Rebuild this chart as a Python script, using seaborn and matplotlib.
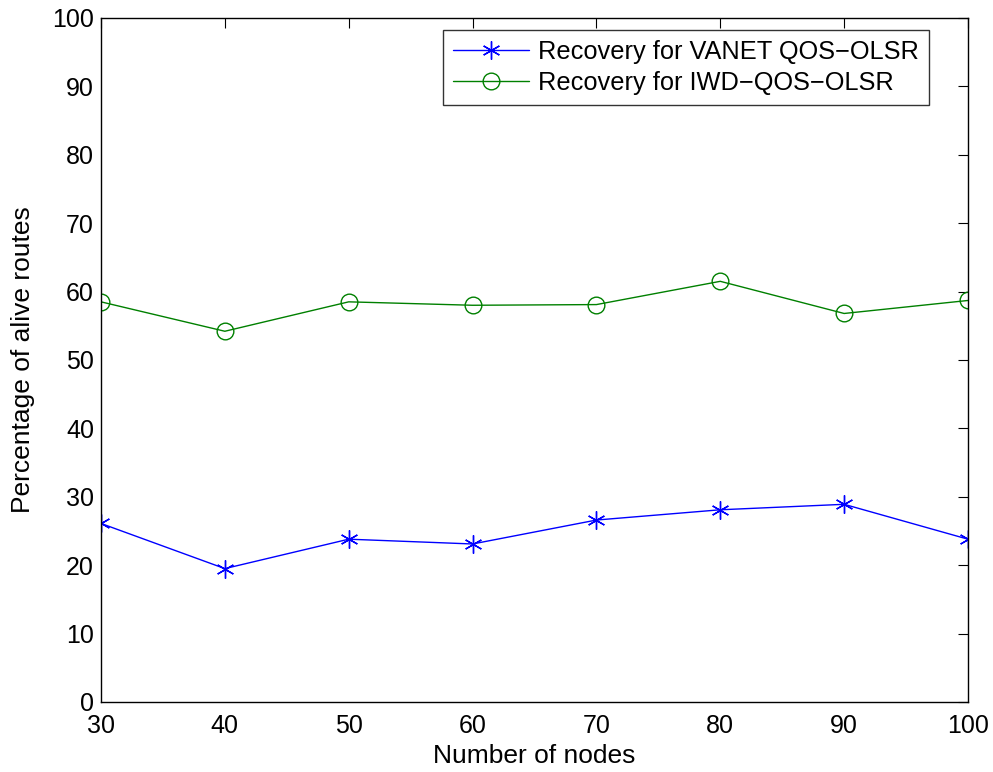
import matplotlib
matplotlib.use("Agg")
import matplotlib.pyplot as plt
import seaborn as sns
import pandas as pd

nodes = [30, 40, 50, 60, 70, 80, 90, 100]
vanet_qos_olsr = [26.1, 19.5, 23.8, 23.1, 26.6, 28.1, 28.9, 23.8]
iwd_qos_olsr = [58.5, 54.2, 58.5, 58.0, 58.1, 61.5, 56.8, 58.7]
series_names = ["Recovery for VANET QOS\u2212OLSR", "Recovery for IWD\u2212QOS\u2212OLSR"]
x_ticks = [30, 40, 50, 60, 70, 80, 90, 100]
y_ticks = list(range(0, 101, 10))

BLUE = (0, 0, 1)
GREEN = (0, 0.5, 0)

sns.set_theme(style="white")
plt.rcParams["font.family"] = ["Liberation Sans", "DejaVu Sans"]
plt.rcParams["axes.unicode_minus"] = True
plt.rcParams["text.color"] = "black"
plt.rcParams["axes.labelcolor"] = "black"

df = pd.DataFrame({
    "nodes": nodes * 2,
    "value": vanet_qos_olsr + iwd_qos_olsr,
    "series": [series_names[0]] * len(nodes) + [series_names[1]] * len(nodes),
})

fig = plt.figure(figsize=(9.93, 7.72), dpi=100)
ax = fig.add_axes([0.1017, 0.0907, 0.8731, 0.886])

sns.lineplot(
    data=df, x="nodes", y="value", hue="series", style="series",
    markers={series_names[0]: "*", series_names[1]: "o"},
    dashes=False,
    palette={series_names[0]: BLUE, series_names[1]: GREEN},
    ax=ax, linewidth=1.0, legend=False,
)


def style_marker(line):
    col = line.get_color()
    if line.get_marker() == "*":
        line.set_marker((6, 2, 0))
        line.set_markersize(13)
    elif line.get_marker() == "o":
        line.set_markersize(12)
    line.set_markerfacecolor("none")
    line.set_markeredgecolor(col)
    line.set_markeredgewidth(1.0)


for line in ax.lines:
    style_marker(line)

ax.set_xlim(30, 100)
ax.set_ylim(0, 100)
ax.set_xticks(x_ticks)
ax.set_yticks(y_ticks)
ax.set_xlabel("Number of nodes", fontsize=19, labelpad=4)
ax.set_ylabel("Percentage of alive routes", fontsize=19)
ax.yaxis.set_label_coords(-0.076, 0.5)
ax.tick_params(axis="both", which="both", direction="in", length=7, width=0.8,
               top=True, right=True, labelsize=18, colors="black")
ax.tick_params(axis="x", pad=9)
ax.tick_params(axis="y", pad=5)
for s in ax.spines.values():
    s.set_color("black")
    s.set_linewidth(1.0)

leg = ax.legend(handles=list(ax.lines), labels=series_names, loc="upper right",
                bbox_to_anchor=(0.955, 0.9825), borderaxespad=0.0,
                fontsize=18.3, frameon=True, fancybox=False,
                edgecolor="black", borderpad=0.38, labelspacing=0.3,
                handlelength=3.0, handletextpad=0.38)
leg.get_frame().set_linewidth(1.0)
for h in leg.legend_handles:
    style_marker(h)

fig.savefig("out.png", dpi=100, facecolor="white")
